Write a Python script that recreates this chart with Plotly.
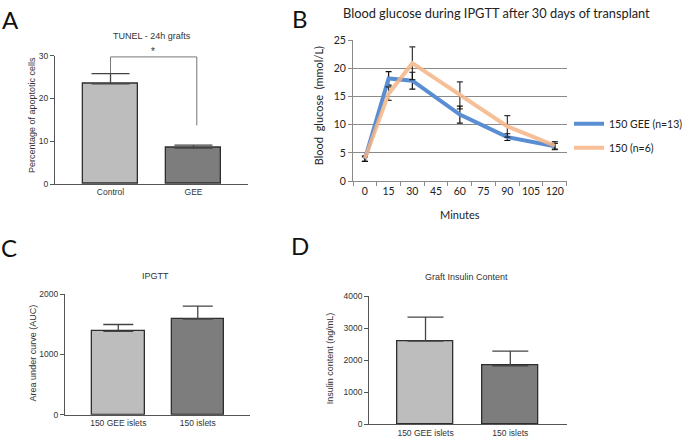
import plotly.graph_objects as go

W, H = 697, 446

# ---------------- data ----------------
# Panel A: TUNEL - 24h grafts
a_categories = ["Control", "GEE"]
a_values = [23.4, 8.4]
a_errors = [2.4, 0.7]
a_bracket_y = [25.9, 29.7, 13.7]   # left foot, top, right foot

# Panel B: blood glucose during IPGTT
b_minutes = [0, 15, 30, 60, 90, 120]
b_tick_minutes = [0, 15, 30, 45, 60, 75, 90, 105, 120]
b_gee_values = [3.9, 18.2, 17.8, 11.8, 7.8, 6.2]
b_gee_errors = [0.4, 1.2, 1.5, 1.5, 0.6, 0.5]
b_ctrl_values = [4.0, 15.5, 20.9, 15.2, 9.7, 6.3]
b_ctrl_errors = [0.5, 1.2, 2.9, 2.4, 1.9, 0.7]
b_series_names = ["150 GEE (n=13)", "150 (n=6)"]

# Panel C: IPGTT AUC
c_categories = ["150 GEE islets", "150 islets"]
c_values = [1382, 1586]
c_errors = [113, 215]

# Panel D: Graft insulin content
d_categories = ["150 GEE islets", "150 islets"]
d_values = [2603, 1831]
d_errors = [747, 456]

# ---------------- style ----------------
LIGHT = "#bdbdbd"
DARK = "#7d7d7d"
EDGE = "#2e2e2e"
AXC = "#555555"
PRISM_FONT = "Liberation Sans"
XL_FONT = "Lato"
BLUE = "#5a8ed3"
ORANGE = "#f4b486"


def px(x):
    return x / W


def py(y):
    return 1 - y / H


fig = go.Figure()

def prism_bars(cats, vals, errs, xa, ya, capw):
    fig.add_trace(go.Bar(
        x=cats, y=vals, xaxis=xa, yaxis=ya, width=0.66,
        marker=dict(color=[LIGHT, DARK], line=dict(color=EDGE, width=1.3)),
        error_y=dict(type="data", array=errs, arrayminus=[0] * len(errs),
                     symmetric=False, color="#444444", thickness=1.3, width=capw),
        showlegend=False, hoverinfo="skip"))

prism_bars(a_categories, a_values, a_errors, "x", "y", 19)
prism_bars(c_categories, c_values, c_errors, "x3", "y3", 15)
prism_bars(d_categories, d_values, d_errors, "x4", "y4", 18)

# Panel B lines
fig.add_trace(go.Scatter(
    x=b_minutes, y=b_gee_values, xaxis="x2", yaxis="y2", mode="lines",
    name=b_series_names[0], line=dict(color=BLUE, width=4),
    error_y=dict(type="data", array=b_gee_errors, color="#111111", thickness=1.2, width=3),
    legendgroup="g1"))
fig.add_trace(go.Scatter(
    x=b_minutes, y=b_ctrl_values, xaxis="x2", yaxis="y2", mode="lines",
    name=b_series_names[1], line=dict(color=ORANGE, width=4), opacity=0.85,
    error_y=dict(type="data", array=b_ctrl_errors, color="#111111", thickness=1.2, width=3),
    legendgroup="g2"))

prism_axis = dict(showline=True, linecolor=AXC, linewidth=1.3, showgrid=False,
                  zeroline=False, tickfont=dict(family=PRISM_FONT, size=8.5, color="#333333"))

fig.update_layout(
    width=W, height=H, margin=dict(l=0, r=0, t=0, b=0),
    paper_bgcolor="white", plot_bgcolor="white",
    xaxis=dict(domain=[px(55), px(248)], anchor="y", range=[-0.669, 1.657],
               ticks="", **prism_axis),
    yaxis=dict(domain=[py(183), py(51)], anchor="x", range=[0, 30],
               tickvals=[0, 10, 20, 30], ticks="outside", ticklen=4,
               tickcolor=AXC, **prism_axis),
    xaxis2=dict(domain=[px(353), px(566.7)], anchor="y2", range=[-7.5, 127.5],
                tickvals=b_tick_minutes, ticks="", showline=True, linecolor="#8a8a8a",
                linewidth=1, showgrid=False, zeroline=False,
                tickfont=dict(family=XL_FONT, size=10.5, color="#222222"),
                minor=dict(tickvals=[m - 7.5 for m in b_tick_minutes] + [127.5],
                           ticks="outside", ticklen=4, tickcolor="#8a8a8a", showgrid=False)),
    yaxis2=dict(domain=[py(180), py(35)], anchor="x2", range=[0, 25], dtick=5,
                ticks="outside", ticklen=4, tickcolor="#8a8a8a",
                showline=True, linecolor="#8a8a8a", linewidth=1,
                showgrid=True, gridcolor="#8a8a8a", gridwidth=1, zeroline=False,
                tickfont=dict(family=XL_FONT, size=10.5, color="#222222")),
    xaxis3=dict(domain=[px(65), px(250)], anchor="y3", range=[-0.67, 1.657],
                ticks="", **prism_axis),
    yaxis3=dict(domain=[py(420), py(296)], anchor="x3", range=[0, 2000],
                tickvals=[0, 1000, 2000], ticks="outside", ticklen=4,
                tickcolor=AXC, **prism_axis),
    xaxis4=dict(domain=[px(369.3), px(566.7)], anchor="y4", range=[-0.663, 1.665],
                ticks="", **prism_axis),
    yaxis4=dict(domain=[py(430), py(298.3)], anchor="x4", range=[0, 4000],
                tickvals=[0, 1000, 2000, 3000, 4000], ticks="outside", ticklen=4,
                tickcolor=AXC, **prism_axis),
    legend=dict(x=px(569), y=py(106), xanchor="left", yanchor="top",
                font=dict(family=XL_FONT, size=10.5, color="#222222"),
                bgcolor="rgba(0,0,0,0)", tracegroupgap=5, traceorder="grouped"),
    bargap=0,
)

# significance bracket in panel A
fig.add_shape(type="path", xref="x", yref="y",
              path=f"M 0 {a_bracket_y[0]} L 0 {a_bracket_y[1]} L 1.04 {a_bracket_y[1]} L 1.04 {a_bracket_y[2]}",
              line=dict(color="#777777", width=1))

ann = []

def text(x, y, s, size, family, color="#333333", angle=0):
    ann.append(dict(x=px(x), y=py(y), xref="paper", yref="paper", text=s,
                    showarrow=False, textangle=angle, xanchor="center", yanchor="middle",
                    font=dict(family=family, size=size, color=color)))

# panel letters
text(10, 14, "A", 24, XL_FONT, "#111111")
text(300, 13, "B", 24, XL_FONT, "#111111")
text(9, 248, "C", 24, XL_FONT, "#111111")
text(300, 246, "D", 24, XL_FONT, "#111111")

# titles
text(496, 7, "Blood glucose during IPGTT after 30 days of transplant", 12.8, XL_FONT, "#222222")
text(152, 31, "TUNEL - 24h grafts", 9, PRISM_FONT)
text(153, 47, "*", 10, PRISM_FONT)
text(155, 277, "IPGTT", 9, PRISM_FONT)
text(466.7, 278.3, "Graft Insulin Content", 9, PRISM_FONT)

# axis titles
text(32, 112, "Percentage of apoptotic cells", 9, PRISM_FONT, angle=-90)
text(318, 103, "Blood  glucose  (mmol/L)", 11, XL_FONT, "#222222", angle=-90)
text(460, 214, "Minutes", 11, XL_FONT, "#222222")
text(33, 357, "Area under curve (AUC)", 9, PRISM_FONT, angle=-90)
text(330, 362, "Insulin content (ng/mL)", 9, PRISM_FONT, angle=-90)

fig.update_layout(annotations=ann)

fig.write_html("out.html", config={"displayModeBar": False},
               post_script="document.body.style.margin='0';document.body.style.overflow='hidden';")
